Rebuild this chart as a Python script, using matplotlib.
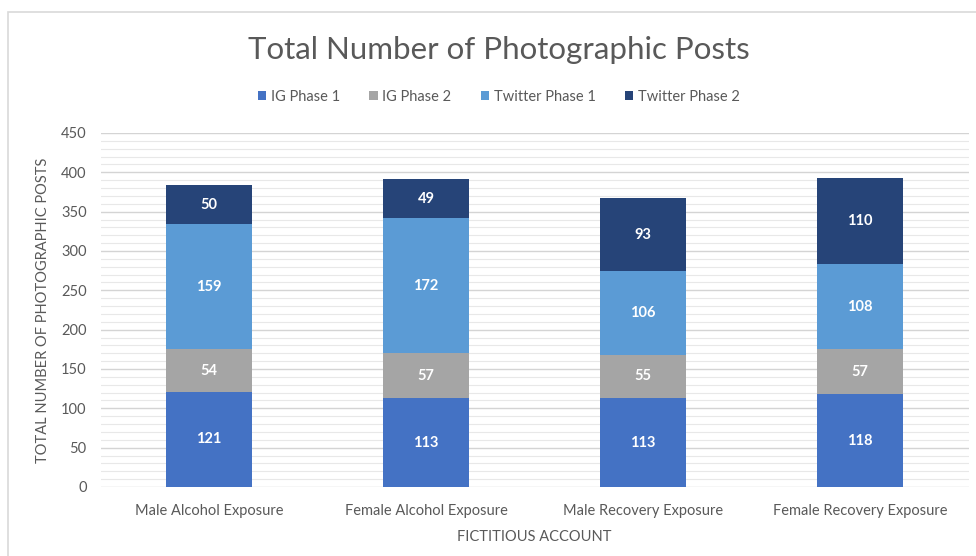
import numpy as np
import matplotlib.pyplot as plt
from matplotlib.patches import Rectangle

plt.rcParams['font.family'] = ['Lato', 'DejaVu Sans']

# Posts per account, stacked by platform and phase
accounts = ['Male Alcohol Exposure', 'Female Alcohol Exposure',
            'Male Recovery Exposure', 'Female Recovery Exposure']
series_names = ['IG Phase 1', 'IG Phase 2', 'Twitter Phase 1', 'Twitter Phase 2']
ig_phase1 = [121, 113, 113, 118]
ig_phase2 = [54, 57, 55, 57]
twitter_phase1 = [159, 172, 106, 108]
twitter_phase2 = [50, 49, 93, 110]

colors = ['#4472C4', '#A5A5A5', '#5B9BD5', '#264478']
text_gray = '#595959'

fig = plt.figure(figsize=(9.76, 5.56), dpi=100)

# light frame around the chart area
fig.patches.append(Rectangle((8 / 976, -0.1), 1.2, 1 - 12 / 556 + 0.1,
                             transform=fig.transFigure, fill=False,
                             edgecolor='#D9D9D9', linewidth=1.2))

ax = fig.add_axes([100.5 / 976, 1 - 487 / 556, 868 / 976, 354 / 556])

x = np.arange(len(accounts))
bottom = np.zeros(len(accounts))
for name, vals, col in zip(series_names,
                           [ig_phase1, ig_phase2, twitter_phase1, twitter_phase2],
                           colors):
    vals = np.array(vals)
    ax.bar(x, vals, 0.4, bottom=bottom, color=col, label=name, zorder=3)
    for xi, b, v in zip(x, bottom, vals):
        ax.text(xi, b + v / 2, str(v), ha='center', va='center',
                color='white', fontsize=10.5, fontweight='bold', zorder=4)
    bottom += vals

ax.set_xlim(-0.5, len(accounts) - 0.5)
ax.set_ylim(0, 450)
ax.set_yticks(np.arange(0, 451, 50))
ax.set_yticks(np.arange(0, 451, 10), minor=True)
ax.grid(axis='y', which='major', color='#D4D4D4', linewidth=1.0, zorder=0)
ax.grid(axis='y', which='minor', color='#E8E8E8', linewidth=0.8, zorder=0)
ax.tick_params(axis='both', which='both', length=0, colors=text_gray, labelsize=10.5)
ax.tick_params(axis='y', pad=10)
ax.tick_params(axis='x', pad=12)
ax.set_xticks(x)
ax.set_xticklabels(accounts)
for s in ax.spines.values():
    s.set_visible(False)

ax.set_ylabel('TOTAL NUMBER OF PHOTOGRAPHIC POSTS', color=text_gray, fontsize=10.5, labelpad=8)
ax.set_xlabel('FICTITIOUS ACCOUNT', color=text_gray, fontsize=10.5, labelpad=9)

fig.text(0.511, 1 - 50 / 556, 'Total Number of Photographic Posts', ha='center',
         va='center', fontsize=22.5, color=text_gray)

fig.legend(loc='center', bbox_to_anchor=(0.511, 1 - 97 / 556), ncol=4, frameon=False,
           fontsize=10.5, handlelength=0.6, handleheight=0.6, handletextpad=0.3,
           columnspacing=2.0, labelcolor=text_gray)

fig.savefig('out.png', dpi=100)
